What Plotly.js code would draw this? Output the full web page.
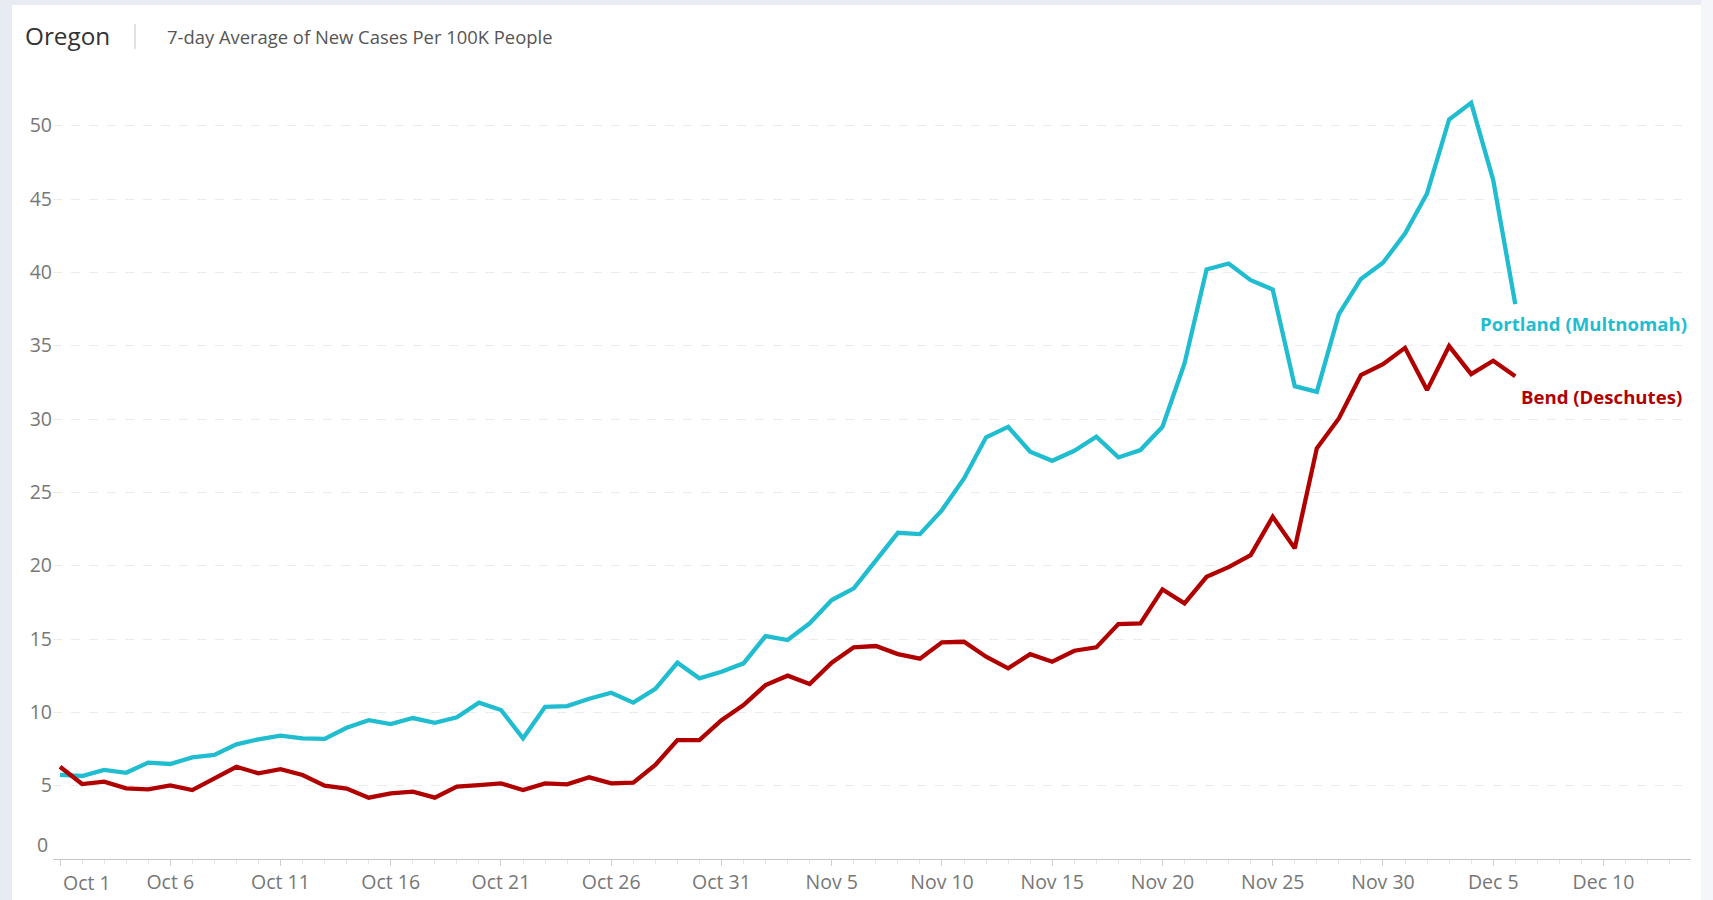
<!DOCTYPE html>
<html>
<head>
<meta charset="utf-8">
<script src="https://cdn.plot.ly/plotly-3.0.1.min.js"></script>
<style>
  html, body { margin:0; padding:0; width:1713px; height:900px; overflow:hidden; background:#e8ebf1; }
  #panel { position:absolute; left:12px; top:5px; width:1689px; height:895px; background:#ffffff; }
  #strip { position:absolute; left:1701px; top:0; width:12px; height:900px; background:#f5f6f9; }
  #chart { position:absolute; left:0; top:0; width:1713px; height:900px; }
</style>
</head>
<body>
<div id="panel"></div>
<div id="strip"></div>
<div id="chart"></div>
<script>
// ---- data ----
const dates = [
  '2020-10-01','2020-10-02','2020-10-03','2020-10-04','2020-10-05','2020-10-06','2020-10-07','2020-10-08','2020-10-09','2020-10-10',
  '2020-10-11','2020-10-12','2020-10-13','2020-10-14','2020-10-15','2020-10-16','2020-10-17','2020-10-18','2020-10-19','2020-10-20',
  '2020-10-21','2020-10-22','2020-10-23','2020-10-24','2020-10-25','2020-10-26','2020-10-27','2020-10-28','2020-10-29','2020-10-30',
  '2020-10-31','2020-11-01','2020-11-02','2020-11-03','2020-11-04','2020-11-05','2020-11-06','2020-11-07','2020-11-08','2020-11-09',
  '2020-11-10','2020-11-11','2020-11-12','2020-11-13','2020-11-14','2020-11-15','2020-11-16','2020-11-17','2020-11-18','2020-11-19',
  '2020-11-20','2020-11-21','2020-11-22','2020-11-23','2020-11-24','2020-11-25','2020-11-26','2020-11-27','2020-11-28','2020-11-29',
  '2020-11-30','2020-12-01','2020-12-02','2020-12-03','2020-12-04','2020-12-05','2020-12-06'
];
const portland = [
  5.73, 5.66, 6.07, 5.88, 6.57, 6.48, 6.93, 7.09, 7.82, 8.16,
  8.41, 8.23, 8.19, 8.95, 9.47, 9.20, 9.61, 9.29, 9.66, 10.66,
  10.16, 8.23, 10.38, 10.43, 10.93, 11.34, 10.66, 11.60, 13.38, 12.32,
  12.77, 13.34, 15.20, 14.93, 16.07, 17.66, 18.45, 20.38, 22.24, 22.15,
  23.79, 25.95, 28.75, 29.47, 27.77, 27.15, 27.83, 28.79, 27.38, 27.88,
  29.47, 33.79, 40.20, 40.60, 39.47, 38.83, 32.24, 31.85, 37.15, 39.55,
  40.65, 42.65, 45.38, 50.42, 51.56, 46.29, 37.83
];
const bend = [
  6.29, 5.11, 5.27, 4.82, 4.75, 5.02, 4.70, 5.50, 6.29, 5.84,
  6.13, 5.73, 5.00, 4.80, 4.18, 4.48, 4.59, 4.18, 4.93, 5.04,
  5.16, 4.70, 5.16, 5.09, 5.57, 5.16, 5.20, 6.41, 8.11, 8.11,
  9.47, 10.50, 11.86, 12.50, 11.93, 13.38, 14.43, 14.52, 13.97, 13.66,
  14.77, 14.81, 13.79, 13.00, 13.97, 13.45, 14.20, 14.43, 16.02, 16.07,
  18.38, 17.43, 19.24, 19.90, 20.72, 23.33, 21.18, 28.00, 30.04, 33.00,
  33.74, 34.85, 31.97, 34.97, 33.06, 33.97, 32.92
];
const seriesNames = ['Portland (Multnomah)', 'Bend (Deschutes)'];
const xTickVals = ['2020-10-01','2020-10-06','2020-10-11','2020-10-16','2020-10-21','2020-10-26','2020-10-31',
                   '2020-11-05','2020-11-10','2020-11-15','2020-11-20','2020-11-25','2020-11-30','2020-12-05','2020-12-10'];
const xTickText = ['Oct 1','Oct 6','Oct 11','Oct 16','Oct 21','Oct 26','Oct 31',
                   'Nov 5','Nov 10','Nov 15','Nov 20','Nov 25','Nov 30','Dec 5','Dec 10'];
const yTickVals = [0, 5, 10, 15, 20, 25, 30, 35, 40, 45, 50];
const yTickText = ['0','5','10','15','20','25','30','35','40','45','50'];
const titleText = 'Oregon';
const subtitleText = '7-day Average of New Cases Per 100K People';

// ---- styles ----
const TEAL = '#1fbdcf';
const RED = '#b00000';
const FONT = '"Open Sans", "Noto Sans", sans-serif';
const TICKCOL = '#777777';
const TICKSIZE = 19.5;

const traces = [
  { x: dates, y: portland, name: seriesNames[0], type: 'scatter', mode: 'lines',
    line: { color: TEAL, width: 4.3, shape: 'linear' }, hoverinfo: 'skip' },
  { x: dates, y: bend, name: seriesNames[1], type: 'scatter', mode: 'lines',
    line: { color: RED, width: 4.3, shape: 'linear' }, hoverinfo: 'skip' }
];

const lastIdx = dates.length - 1;
const layout = {
  width: 1713, height: 900,
  paper_bgcolor: 'rgba(0,0,0,0)', plot_bgcolor: 'rgba(0,0,0,0)',
  margin: { l: 53, r: 22, t: 67, b: 41, pad: 0 },
  showlegend: false,
  font: { family: FONT, color: TICKCOL, size: TICKSIZE },
  title: { text: titleText, xref: 'container', yref: 'container', x: 25/1713, xanchor: 'left',
           y: 1 - 36/900, yanchor: 'middle', font: { family: FONT, size: 24.3, color: '#333333' } },
  xaxis: {
    type: 'date',
    range: ['2020-09-30 16:23', '2020-12-13 23:17'],
    tickmode: 'array', tickvals: xTickVals, ticktext: [''].concat(xTickText.slice(1)),
    showgrid: false, zeroline: false,
    showline: true, linecolor: '#c6c6c6', linewidth: 1,
    ticks: 'outside', ticklen: 6, tickcolor: '#d0d0d0', tickwidth: 1,
    tickfont: { family: FONT, size: TICKSIZE, color: TICKCOL },
    minor: { dtick: 86400000, ticks: 'outside', ticklen: 4, tickcolor: '#e6e6e6', showgrid: false },
    fixedrange: true
  },
  yaxis: {
    range: [0, 54],
    tickmode: 'array', tickvals: yTickVals, ticktext: [''].concat(yTickText.slice(1)),
    showgrid: true, gridcolor: '#ebebeb', gridwidth: 1, griddash: 'dash',
    zeroline: false, showline: false, ticks: '',
    tickfont: { family: FONT, size: TICKSIZE, color: TICKCOL },
    fixedrange: true
  },
  shapes: [
    { type: 'line', xref: 'paper', yref: 'paper', x0: (135-53)/1638, x1: (135-53)/1638,
      y0: 1 + (67-49)/792, y1: 1 + (67-24)/792, line: { color: '#c4c4c4', width: 1 } }
  ],
  annotations: [
    { xref: 'paper', yref: 'paper', x: (165-53)/1638, y: 1 + (67-36)/792, xanchor: 'left', yanchor: 'middle',
      text: subtitleText, showarrow: false, font: { family: FONT, size: 18.4, color: '#555555' } },
    { x: dates[lastIdx], y: portland[lastIdx], xref: 'x', yref: 'y', xanchor: 'right', yanchor: 'middle',
      xshift: 174, yshift: -19, text: '<b>' + seriesNames[0] + '</b>', showarrow: false,
      font: { family: FONT, size: 18.6, color: TEAL } },
    { x: dates[lastIdx], y: bend[lastIdx], xref: 'x', yref: 'y', xanchor: 'right', yanchor: 'middle',
      xshift: 169, yshift: -20, text: '<b>' + seriesNames[1] + '</b>', showarrow: false,
      font: { family: FONT, size: 18.6, color: RED } },
    { x: xTickVals[0], y: 0, xref: 'x', yref: 'y', xanchor: 'left', yanchor: 'middle',
      xshift: 1, yshift: -23, text: xTickText[0], showarrow: false,
      font: { family: FONT, size: TICKSIZE, color: TICKCOL } },
    { xref: 'paper', x: 0, y: yTickVals[0], yref: 'y', xanchor: 'right', yanchor: 'middle',
      xshift: -3, yshift: 15, text: yTickText[0], showarrow: false,
      font: { family: FONT, size: TICKSIZE, color: TICKCOL } }
  ]
};

Plotly.newPlot('chart', traces, layout, { displayModeBar: false, staticPlot: true });
</script>
</body>
</html>
